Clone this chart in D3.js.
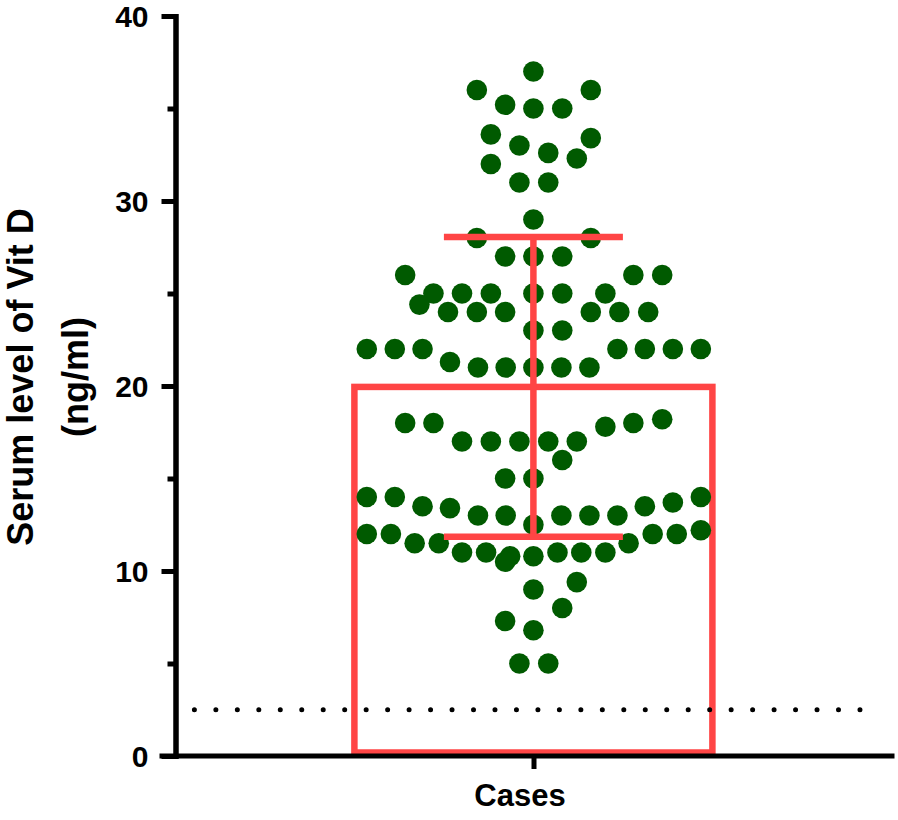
<!DOCTYPE html>
<html>
<head>
<meta charset="utf-8">
<script src="https://cdn.jsdelivr.net/npm/d3@7/dist/d3.min.js"></script>
<style>
  html, body { margin: 0; padding: 0; background: #fff; }
  svg { display: block; }
  text { font-family: "Liberation Sans", Arial, sans-serif; font-weight: bold; fill: #000; }
</style>
</head>
<body>
<svg id="chart" width="898" height="820"></svg>
<script>
// ---- data ----
const categories = ["Cases"];
const yTicks = [0, 10, 20, 30, 40];
const yMinorTicks = [5, 15, 25, 35];
const yTitleLines = ["Serum level of Vit D", "(ng/ml)"];
const barMean = [19.95];
const barSD = [8.1];
const referenceLevel = 2.5;
// individual values and their horizontal scatter (in point-diameter units)
const values = [
  37.0, 36.0, 36.0, 35.2, 35.0, 35.0, 33.6, 33.4, 33.0, 32.6, 32.3, 32.0, 31.0, 31.0,
  29.0, 28.0, 28.0, 27.0, 27.0, 27.0, 26.0, 26.0, 26.0,
  25.0, 25.0, 25.0, 25.0, 25.0, 25.0, 24.4, 24.0, 24.0, 24.0, 24.0, 24.0, 24.0,
  23.0, 23.0, 22.0, 22.0, 22.0, 22.0, 22.0, 22.0, 22.0,
  21.3, 21.0, 21.0, 21.0, 21.0, 21.0,
  18.0, 18.0, 17.8, 18.0, 18.2, 17.0, 17.0, 17.0, 17.0, 17.0,
  16.0, 15.0, 15.0,
  14.0, 14.0, 13.5, 13.4, 13.0, 13.0, 12.5, 13.0, 13.0, 13.0, 13.5, 13.7, 14.0,
  12.0, 12.0, 11.5, 11.5, 11.0, 11.0, 10.8, 10.5, 10.8, 11.0, 11.0, 11.0, 11.5, 12.0, 12.0, 12.2,
  9.4, 9.0, 8.0, 7.3, 6.8, 5.0, 5.0
];
const jitter = [
  0, -2.02, 2.05, -1.01, 0, 1.03, -1.52, 2.05, -0.5, 0.53, 1.55, -1.52, -0.5, 0.53,
  0, -2.02, 2.05, -1.01, 0, 1.03, -4.58, 3.57, 4.6,
  -3.57, -2.55, -1.52, 0, 1.03, 2.57, -4.07, -3.05, -2.02, -1.01, 2.05, 3.07, 4.1,
  0, 1.03, -5.95, -4.95, -3.96, 3.0, 3.98, 4.98, 5.98,
  -2.98, -1.98, -0.99, 0, 1.0, 2.0,
  -4.58, -3.57, 2.57, 3.57, 4.6, -2.55, -1.52, -0.5, 0.53, 1.55,
  1.03, -1.01, 0,
  -5.95, -4.95, -3.96, -2.98, -1.98, -0.99, 0, 1.0, 2.0, 3.0, 3.98, 4.98, 5.98,
  -5.95, -5.09, -4.24, -3.38, -2.55, -1.69, -0.83, -1.01, 0, 0.86, 1.71, 2.57, 3.4, 4.26, 5.12, 5.98,
  1.55, 0, 1.03, -1.01, 0, -0.5, 0.53
];

// ---- layout ----
const svg = d3.select("#chart");
const red = "#ff4545";
const green = "#005a00";
const axisW = 5;

const y = d3.scaleLinear().domain([0, 40]).range([756, 16]);
const x = d3.scaleBand().domain(categories).range([176, 892]);
const j = d3.scaleLinear().domain([0, 1]).range([0, 28]);
const cx = c => x(c) + x.bandwidth() / 2 - 0.6;
const barW = x.bandwidth() * 0.5;
const capW = x.bandwidth() * 0.25;

const g = svg.append("g");

// bar (outline)
g.selectAll("rect.bar").data(categories).join("rect")
  .attr("class", "bar")
  .attr("x", (c) => cx(c) - barW / 2)
  .attr("y", (c, i) => y(barMean[i]))
  .attr("width", barW)
  .attr("height", (c, i) => y(0) - 3.5 - y(barMean[i]))
  .attr("fill", "none")
  .attr("stroke", red)
  .attr("stroke-width", 6.5);

// points
const pts = values.map((v, i) => ({ v, o: jitter[i] }));
g.selectAll("circle.pt").data(pts).join("circle")
  .attr("class", "pt")
  .attr("cx", d => cx(categories[0]) + j(d.o))
  .attr("cy", d => y(d.v))
  .attr("r", 10.3)
  .attr("fill", green);

// error bar
categories.forEach((c, i) => {
  const lo = barMean[i] - barSD[i], hi = barMean[i] + barSD[i];
  const eg = g.append("g").attr("stroke", red).attr("stroke-width", 6.5);
  eg.append("line").attr("x1", cx(c)).attr("x2", cx(c)).attr("y1", y(lo)).attr("y2", y(hi));
  [lo, hi].forEach(v => {
    eg.append("line").attr("x1", cx(c) - capW / 2).attr("x2", cx(c) + capW / 2)
      .attr("y1", y(v)).attr("y2", y(v));
  });
});

// reference dotted line
g.append("line")
  .attr("x1", 194.4).attr("x2", 861)
  .attr("y1", y(referenceLevel)).attr("y2", y(referenceLevel))
  .attr("stroke", "#000").attr("stroke-width", 5)
  .attr("stroke-linecap", "round")
  .attr("stroke-dasharray", "0 21.47");

// y axis
const yAxis = svg.append("g").attr("transform", "translate(175.5,0)")
  .call(d3.axisLeft(y).tickValues(yTicks).tickFormat(d3.format("d")).tickSize(14).tickSizeOuter(0).tickPadding(13));
const yMinor = svg.append("g").attr("transform", "translate(175.5,0)")
  .call(d3.axisLeft(y).tickValues(yMinorTicks).tickFormat("").tickSize(8).tickSizeOuter(0));
[yAxis, yMinor].forEach(a => {
  a.selectAll("path.domain").attr("stroke-width", axisW).attr("stroke-linecap", "square").attr("stroke", "#000");
  a.selectAll(".tick line").attr("stroke-width", axisW).attr("stroke", "#000");
});
yAxis.selectAll(".tick text").attr("font-size", 30).attr("font-family", "'Liberation Sans', Arial, sans-serif")
  .attr("font-weight", "bold").attr("fill", "#000").attr("dy", "0.36em");

// x axis
const xAxis = svg.append("g").attr("transform", "translate(0,756)")
  .call(d3.axisBottom(x).tickSize(13).tickSizeOuter(0));
xAxis.select("path.domain").attr("stroke-width", axisW).attr("stroke-linecap", "square").attr("stroke", "#000")
  .attr("d", "M162,0H892");
xAxis.selectAll(".tick line").attr("stroke-width", axisW).attr("stroke", "#000");
xAxis.selectAll(".tick text").attr("font-size", 31).attr("font-family", "'Liberation Sans', Arial, sans-serif")
  .attr("font-weight", "bold").attr("fill", "#000")
  .attr("y", 50).attr("dy", 0).attr("dx", -14);

// y title
const yt = svg.append("text")
  .attr("transform", "translate(0,377) rotate(-90)")
  .attr("text-anchor", "middle")
  .attr("font-size", 36);
yTitleLines.forEach((t, i) => {
  yt.append("tspan").attr("x", 0).attr("y", i === 0 ? 33 : 87.5).text(t);
});
</script>
</body>
</html>
